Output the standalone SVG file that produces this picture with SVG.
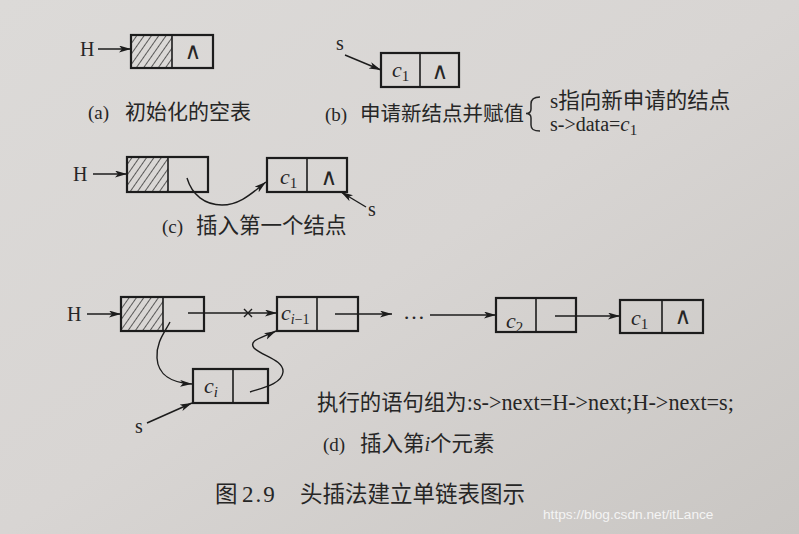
<svg xmlns="http://www.w3.org/2000/svg" width="799" height="534" viewBox="0 0 799 534">
<style>
.t{font-family:'Liberation Serif','Noto Sans CJK SC',serif;fill:#262626}
.cj{font-family:'Noto Sans CJK SC',sans-serif;fill:#262626}
.box{fill:none;stroke:#1c1c1c;stroke-width:2.2}
.div{stroke:#1c1c1c;stroke-width:1.6}
.ln{fill:none;stroke:#1c1c1c;stroke-width:1.4}
.nul{font-family:'DejaVu Sans ExtraLight','DejaVu Sans Light','DejaVu Serif',sans-serif;font-weight:200;font-size:23px;fill:#262626;text-anchor:middle}
.lab{font-family:'Liberation Serif',serif;font-size:22px;fill:#262626}
.it{font-style:italic}
</style>
<defs>
<linearGradient id="bg" x1="0" y1="0" x2="1" y2="1">
<stop offset="0" stop-color="#dcdad8"/>
<stop offset="0.5" stop-color="#d8d5d3"/>
<stop offset="1" stop-color="#c9c6c3"/>
</linearGradient>
<pattern id="hatch" patternUnits="userSpaceOnUse" width="6" height="6" patternTransform="rotate(35)">
<line x1="0" y1="0" x2="0" y2="6" stroke="#222" stroke-width="1.4"/>
</pattern>
<marker id="ah" markerUnits="userSpaceOnUse" markerWidth="14" markerHeight="8" refX="12" refY="3.5" orient="auto">
<path d="M0,0 L12,3.5 L0,7 L3,3.5 z" fill="#1c1c1c"/>
</marker>
</defs>
<rect width="799" height="534" fill="url(#bg)"/>

<!-- (a) -->
<g id="a-H"><text class="t" x="80" y="56" font-size="20">H</text></g>
<g id="a-head">
<rect x="131" y="35" width="41" height="33" fill="url(#hatch)"/>
<rect class="box" x="131" y="35" width="82" height="33"/>
<line class="div" x1="172" y1="35" x2="172" y2="68"/>
<text class="nul" x="193" y="59">∧</text>
</g>
<g id="a-cap"><text class="t" x="88" y="119" font-size="19">(a)</text><text class="cj" x="125" y="119" font-size="21">初始化的空表</text></g>

<!-- (b) -->
<g id="b-s"><text class="t" x="336" y="50" font-size="20">s</text></g>
<g id="b-c1">
<rect class="box" x="381" y="53" width="78" height="34"/>
<line class="div" x1="420" y1="53" x2="420" y2="87"/>
<text class="lab" x="392" y="77"><tspan class="it">c</tspan><tspan font-size="15" dy="4">1</tspan></text>
<text class="nul" x="440" y="79">∧</text>
</g>
<g id="b-cap">
<text class="t" x="325" y="121" font-size="19">(b)</text><text class="cj" x="360" y="121" font-size="20.5">申请新结点并赋值</text>
<path d="M540,97 C533,97 531,100 531,104 L531,109 C531,112 529,113.5 526,113.5 C529,113.5 531,115 531,118 L531,125 C531,129 533,131 540,131" fill="none" stroke="#262626" stroke-width="1.5"/>
<text class="t" x="550" y="108" font-size="21">s<tspan font-family="'Noto Sans CJK SC',sans-serif" font-size="21.5">指向新申请的结点</tspan></text>
<text class="t" x="550" y="131" font-size="20">s-&gt;data=<tspan class="it" font-size="21">c</tspan><tspan font-size="15" dy="4">1</tspan></text>
</g>

<!-- (c) -->
<g id="c-H"><text class="t" x="73" y="181" font-size="20">H</text></g>
<g id="c-head">
<rect x="127" y="157" width="41" height="35" fill="url(#hatch)"/>
<rect class="box" x="127" y="157" width="81" height="35"/>
<line class="div" x1="168" y1="157" x2="168" y2="192"/>
</g>
<g id="c-c1">
<rect class="box" x="267" y="158" width="80" height="34"/>
<line class="div" x1="307" y1="158" x2="307" y2="192"/>
<text class="lab" x="280" y="184"><tspan class="it">c</tspan><tspan font-size="15" dy="4">1</tspan></text>
<text class="nul" x="329" y="185">∧</text>
</g>
<g id="c-s"><text class="t" x="368" y="216" font-size="20">s</text></g>
<g id="c-cap"><text class="t" x="162" y="233" font-size="19">(c)</text><text class="cj" x="196" y="233" font-size="21.5">插入第一个结点</text></g>

<!-- (d) -->
<g id="d-H"><text class="t" x="67" y="321" font-size="20">H</text></g>
<g id="d-head">
<rect x="121" y="297" width="42" height="34" fill="url(#hatch)"/>
<rect class="box" x="121" y="297" width="83" height="34"/>
<line class="div" x1="163" y1="297" x2="163" y2="331"/>
</g>
<g id="d-ci1">
<rect class="box" x="277" y="297" width="81" height="34"/>
<line class="div" x1="317" y1="297" x2="317" y2="331"/>
<text class="lab" x="281" y="320"><tspan class="it">c</tspan><tspan font-size="14" dy="4"><tspan class="it">i</tspan>−1</tspan></text>
</g>
<g id="d-dots"><text class="t" x="403" y="319" font-size="22">…</text></g>
<g id="d-c2">
<rect class="box" x="496" y="298" width="80" height="34"/>
<line class="div" x1="536" y1="298" x2="536" y2="332"/>
<text class="lab" x="506" y="328"><tspan class="it">c</tspan><tspan font-size="15" dy="4">2</tspan></text>
</g>
<g id="d-c1">
<rect class="box" x="620" y="300" width="83" height="33"/>
<line class="div" x1="662" y1="300" x2="662" y2="333"/>
<text class="lab" x="631" y="325"><tspan class="it">c</tspan><tspan font-size="15" dy="4">1</tspan></text>
<text class="nul" x="683" y="324">∧</text>
</g>
<g id="d-ci">
<rect class="box" x="193" y="369" width="75" height="34"/>
<line class="div" x1="233" y1="369" x2="233" y2="403"/>
<text class="lab" x="204" y="393"><tspan class="it">c</tspan><tspan class="it" font-size="15" dy="4">i</tspan></text>
</g>
<g id="d-s"><text class="t" x="135" y="433" font-size="20">s</text></g>
<g id="d-code"><text class="cj" x="317" y="410" font-size="21.4">执行的语句组为<tspan font-family="'Liberation Serif',serif" font-size="22.2">:s-&gt;next=H-&gt;next;H-&gt;next=s;</tspan></text></g>
<g id="d-cap"><text class="t" x="323" y="451" font-size="19">(d)</text><text class="cj" x="360" y="451" font-size="21.5">插入第<tspan font-family="'Liberation Serif',serif" font-style="italic" font-size="20">i</tspan>个元素</text></g>

<!-- figure caption -->
<g id="fig-cap"><text class="cj" y="502" font-size="22.5"><tspan x="215">图 </tspan><tspan x="242" font-family="'Liberation Serif',serif" font-size="23" letter-spacing="2">2.9 </tspan><tspan x="300">头插法建立单链表图示</tspan></text></g>
<g id="watermark"><text x="543" y="519" font-family="'Liberation Sans',sans-serif" font-size="13.7" fill="#f4f4f4">https://blog.csdn.net/itLance</text></g>

<g id="connectors">
<line class="ln" x1="98" y1="49" x2="131" y2="49" marker-end="url(#ah)"/>
<line class="ln" x1="345" y1="55" x2="381" y2="70" marker-end="url(#ah)"/>
<line class="ln" x1="93" y1="174" x2="127" y2="174" marker-end="url(#ah)"/>
<path class="ln" d="M187,178 C192,195 205,205 222,205 C240,205 252,193 266,182" marker-end="url(#ah)"/>
<line class="ln" x1="366" y1="207" x2="341" y2="192" marker-end="url(#ah)"/>
<line class="ln" x1="87" y1="314" x2="121" y2="314" marker-end="url(#ah)"/>
<line class="ln" x1="188" y1="313" x2="277" y2="313" marker-end="url(#ah)"/>
<path class="ln" d="M244,309 L252,317 M252,309 L244,317"/>
<line class="ln" x1="335" y1="314" x2="392" y2="314" marker-end="url(#ah)"/>
<line class="ln" x1="430" y1="315" x2="496" y2="315" marker-end="url(#ah)"/>
<line class="ln" x1="555" y1="316" x2="620" y2="316" marker-end="url(#ah)"/>
<path class="ln" d="M170,322 C165,332 156,342 157,358 C158,375 172,383 192,384" marker-end="url(#ah)"/>
<path class="ln" d="M250,392 C262,388 282,384 283,372 C284,360 262,356 254,348 C248,340 262,338 276,331" marker-end="url(#ah)"/>
<line class="ln" x1="147" y1="423" x2="192" y2="403" marker-end="url(#ah)"/>
</g>
</svg>
